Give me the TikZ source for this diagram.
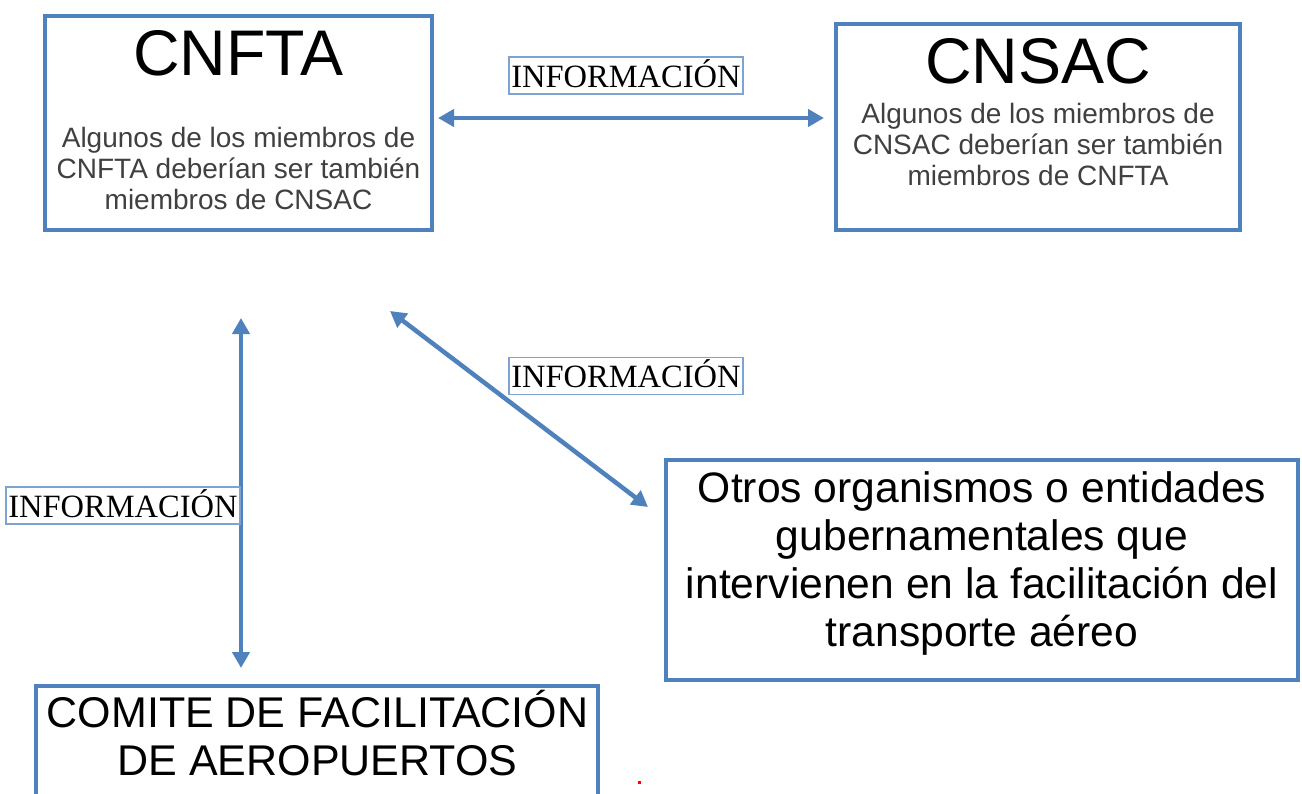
\documentclass[tikz,border=0pt]{standalone}
\usepackage{fontspec}
\setmainfont{Liberation Sans}
\newfontfamily\serifinfo{Liberation Serif}
\usetikzlibrary{arrows.meta}
\definecolor{boxblue}{HTML}{4F81BD}
\definecolor{lblblue}{HTML}{7EA2D2}
\definecolor{bodygray}{HTML}{404040}
\tikzset{
  mainbox/.style={draw=boxblue, line width=4.5pt, rectangle, inner sep=0pt},
  title/.style={font=\fontsize{64.5}{70}\selectfont, anchor=base, inner sep=0pt},
  body/.style={font=\fontsize{28}{31}\selectfont, text=bodygray, align=center, anchor=base, inner sep=0pt},
  bigtxt/.style={font=\fontsize{42.6}{48}\selectfont, align=center, anchor=base, inner sep=0pt},
  infolbl/.style={draw=lblblue, line width=1.3pt, inner sep=0pt, minimum width=234pt, minimum height=37pt,
    text height=23pt, text depth=0pt, font=\serifinfo\fontsize{32.5}{35}\selectfont},
  link/.style={draw=boxblue, line width=4.5pt, {Triangle[length=16pt,width=17pt]}-{Triangle[length=16pt,width=17pt]}}
}
\begin{document}
\begin{tikzpicture}[x=1pt,y=-1pt]
\clip (0,0) rectangle (1302,793);
\fill[white] (0,0) rectangle (1302,793);
% boxes
\node[mainbox, minimum width=387pt, minimum height=214pt] (cnfta) at (238.5,123) {};
\node[mainbox, minimum width=404pt, minimum height=206pt] (cnsac) at (1038,127) {};
\node[mainbox, minimum width=632pt, minimum height=220pt] (otros) at (982,570) {};
\node[mainbox, minimum width=562pt, minimum height=200pt] (comite) at (317,786) {};
% texts (base anchor = baseline of the last line)
\node[title] (t1) at (238.5,75) {CNFTA};
\node[body] (b1) at (238.5,209) {Algunos de los miembros de\\CNFTA deberían ser también\\miembros de CNSAC};
\node[title] (t2) at (1038,83) {CNSAC};
\node[body] (b2) at (1038,185) {Algunos de los miembros de\\CNSAC deberían ser también\\miembros de CNFTA};
\node[bigtxt] (t3) at (982,646) {Otros organismos o entidades\\gubernamentales que\\intervienen en la facilitación del\\transporte aéreo};
\node[bigtxt, font=\fontsize{43}{48}\selectfont] (t4) at (317.5,775) {COMITE DE FACILITACIÓN\\DE AEROPUERTOS};
% arrow ends
\coordinate (hA) at (438,118);
\coordinate (hB) at (824,118);
\coordinate (vA) at (241,318);
\coordinate (vB) at (241,668);
\coordinate (dA) at (390,311);
\coordinate (dB) at (648,507);
\draw[link] (hA) -- (hB);
\draw[link] (vA) -- (vB);
\draw[link] (dA) -- (dB);
% labels
\node[infolbl, fill=white] (l1) at (626,75.5) {INFORMACIÓN};
\node[infolbl, fill=white] (l2) at (626,376) {INFORMACIÓN};
\node[infolbl] (l3) at (123,505.5) {INFORMACIÓN};
% stray red mark
\node[fill=red, inner sep=0pt, minimum width=3pt, minimum height=3pt] (dot) at (639,782) {};
\end{tikzpicture}
\end{document}
